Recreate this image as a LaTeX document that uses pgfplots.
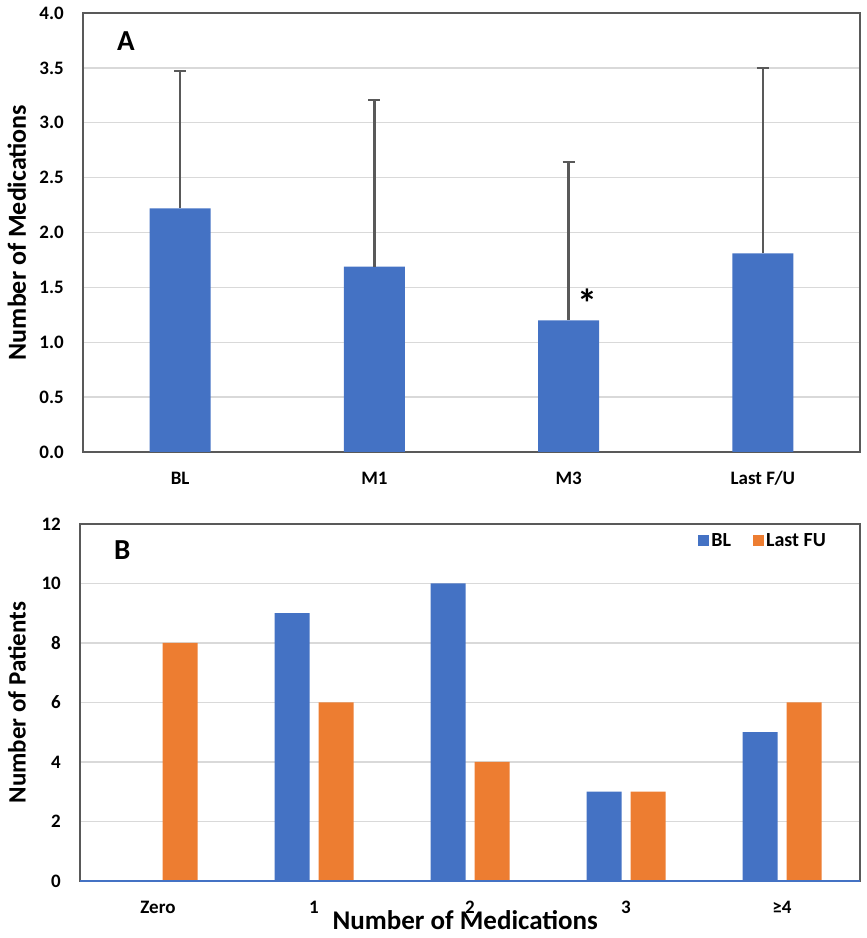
\documentclass[border=0pt]{standalone}
\usepackage{fontspec}
\setmainfont{Carlito}[UprightFont={* Bold},BoldFont={* Bold}]
\usepackage{pgfplots}
\pgfplotsset{compat=1.18}
\definecolor{barblue}{HTML}{4472C4}
\definecolor{barorange}{HTML}{ED7D31}
\definecolor{framec}{HTML}{595959}
\definecolor{gridc}{HTML}{D9D9D9}
\newcommand{\ticksize}{\fontsize{19pt}{22pt}\selectfont}
\newcommand{\labsize}{\fontsize{26pt}{28pt}\selectfont}
\newcommand{\legsize}{\fontsize{20pt}{24pt}\selectfont}
\newcommand{\panelsize}{\fontsize{29pt}{32pt}\selectfont}
\pgfplotsset{
  common/.style={
    scale only axis, anchor=south west,
    major tick length=0pt,
    ymajorgrids, grid style={draw=gridc, line width=1.3pt},
    axis line style={draw=framec, line width=2.3pt},
    /pgf/number format/assume math mode=true,
    tick label style={font=\ticksize},
    yticklabel style={anchor=east, inner sep=0pt, xshift=-19pt},
    label style={font=\labsize},
  },
  sqleg/.style={legend image code/.code={\fill[##1] (0pt,-5.5pt) rectangle (11pt,5.5pt);}},
}
\begin{document}
\begin{tikzpicture}
\path[use as bounding box] (0pt,0pt) rectangle (867pt,938pt);
% Panel A
\begin{axis}[common,
  at={(83pt,486pt)}, width=777pt, height=439pt,
  xmin=-0.5, xmax=3.5, ymin=0, ymax=4,
  xtick={0,1,2,3}, xticklabels={BL,M1,M3,Last F/U},
  xticklabel style={anchor=base, yshift=-33pt},
  ytick={0,0.5,1,1.5,2,2.5,3,3.5,4},
  yticklabel style={/pgf/number format/.cd, fixed, fixed zerofill, precision=1},
  ylabel={Number of Medications},
  ylabel style={at={(axis description cs:-0.085,0.5)}, anchor=center},
  ybar, bar width=61pt,
]
\addplot[fill=barblue, draw=none,
  error bars/.cd, y dir=plus, y explicit,
  error bar style={draw=framec, line width=2.3pt},
  error mark options={rotate=90, mark size=6pt, draw=framec, line width=2.3pt}]
  coordinates {(0,2.22) +- (0,1.25) (1,1.69) +- (0,1.52) (2,1.20) +- (0,1.44) (3,1.81) +- (0,1.69)};
\node[font=\fontsize{40pt}{42pt}\selectfont, anchor=base, inner sep=0pt] at (axis cs:2,1.2) [xshift=19pt, yshift=3pt] {*};
\node[font=\panelsize, anchor=base west, inner sep=0pt] at (axis description cs:0.0438,0.9157) {A};
\end{axis}
% Panel B
\begin{axis}[common,
  at={(80pt,57pt)}, width=780pt, height=357pt,
  xmin=-0.5, xmax=4.5, ymin=0, ymax=12,
  xtick={0,1,2,3,4}, xticklabels={Zero,1,2,3,≥4},
  xticklabel style={anchor=base, yshift=-32pt},
  ytick={0,2,4,6,8,10,12},
  ylabel={Number of Patients},
  ylabel style={at={(axis description cs:-0.081,0.5)}, anchor=center, font=\fontsize{25pt}{28pt}\selectfont},
  xlabel={Number of Medications},
  xlabel style={at={(axis description cs:0.494,0)}, anchor=center, yshift=-39pt, font=\fontsize{27pt}{30pt}\selectfont},
  ybar=9pt, bar width=35pt,
  legend style={font=\legsize, draw=none, fill=none, legend columns=2,
    at={(axis description cs:0.959,0.98)}, anchor=north east, inner sep=0pt,
    /tikz/every even column/.append style={column sep=20pt},
    nodes={inner sep=2pt}},
  legend cell align=left,
]
\addplot[fill=barblue, draw=none, sqleg] coordinates {(0,0) (1,9) (2,10) (3,3) (4,5)};
\addplot[fill=barorange, draw=none, sqleg] coordinates {(0,8) (1,6) (2,4) (3,3) (4,6)};
\legend{BL, Last FU}
\draw[barblue, line width=2.3pt] (rel axis cs:0,0) -- (rel axis cs:1,0);
\node[font=\panelsize, anchor=base west, inner sep=0pt] at (axis description cs:0.0436,0.8992) {B};
\end{axis}
\end{tikzpicture}
\end{document}
